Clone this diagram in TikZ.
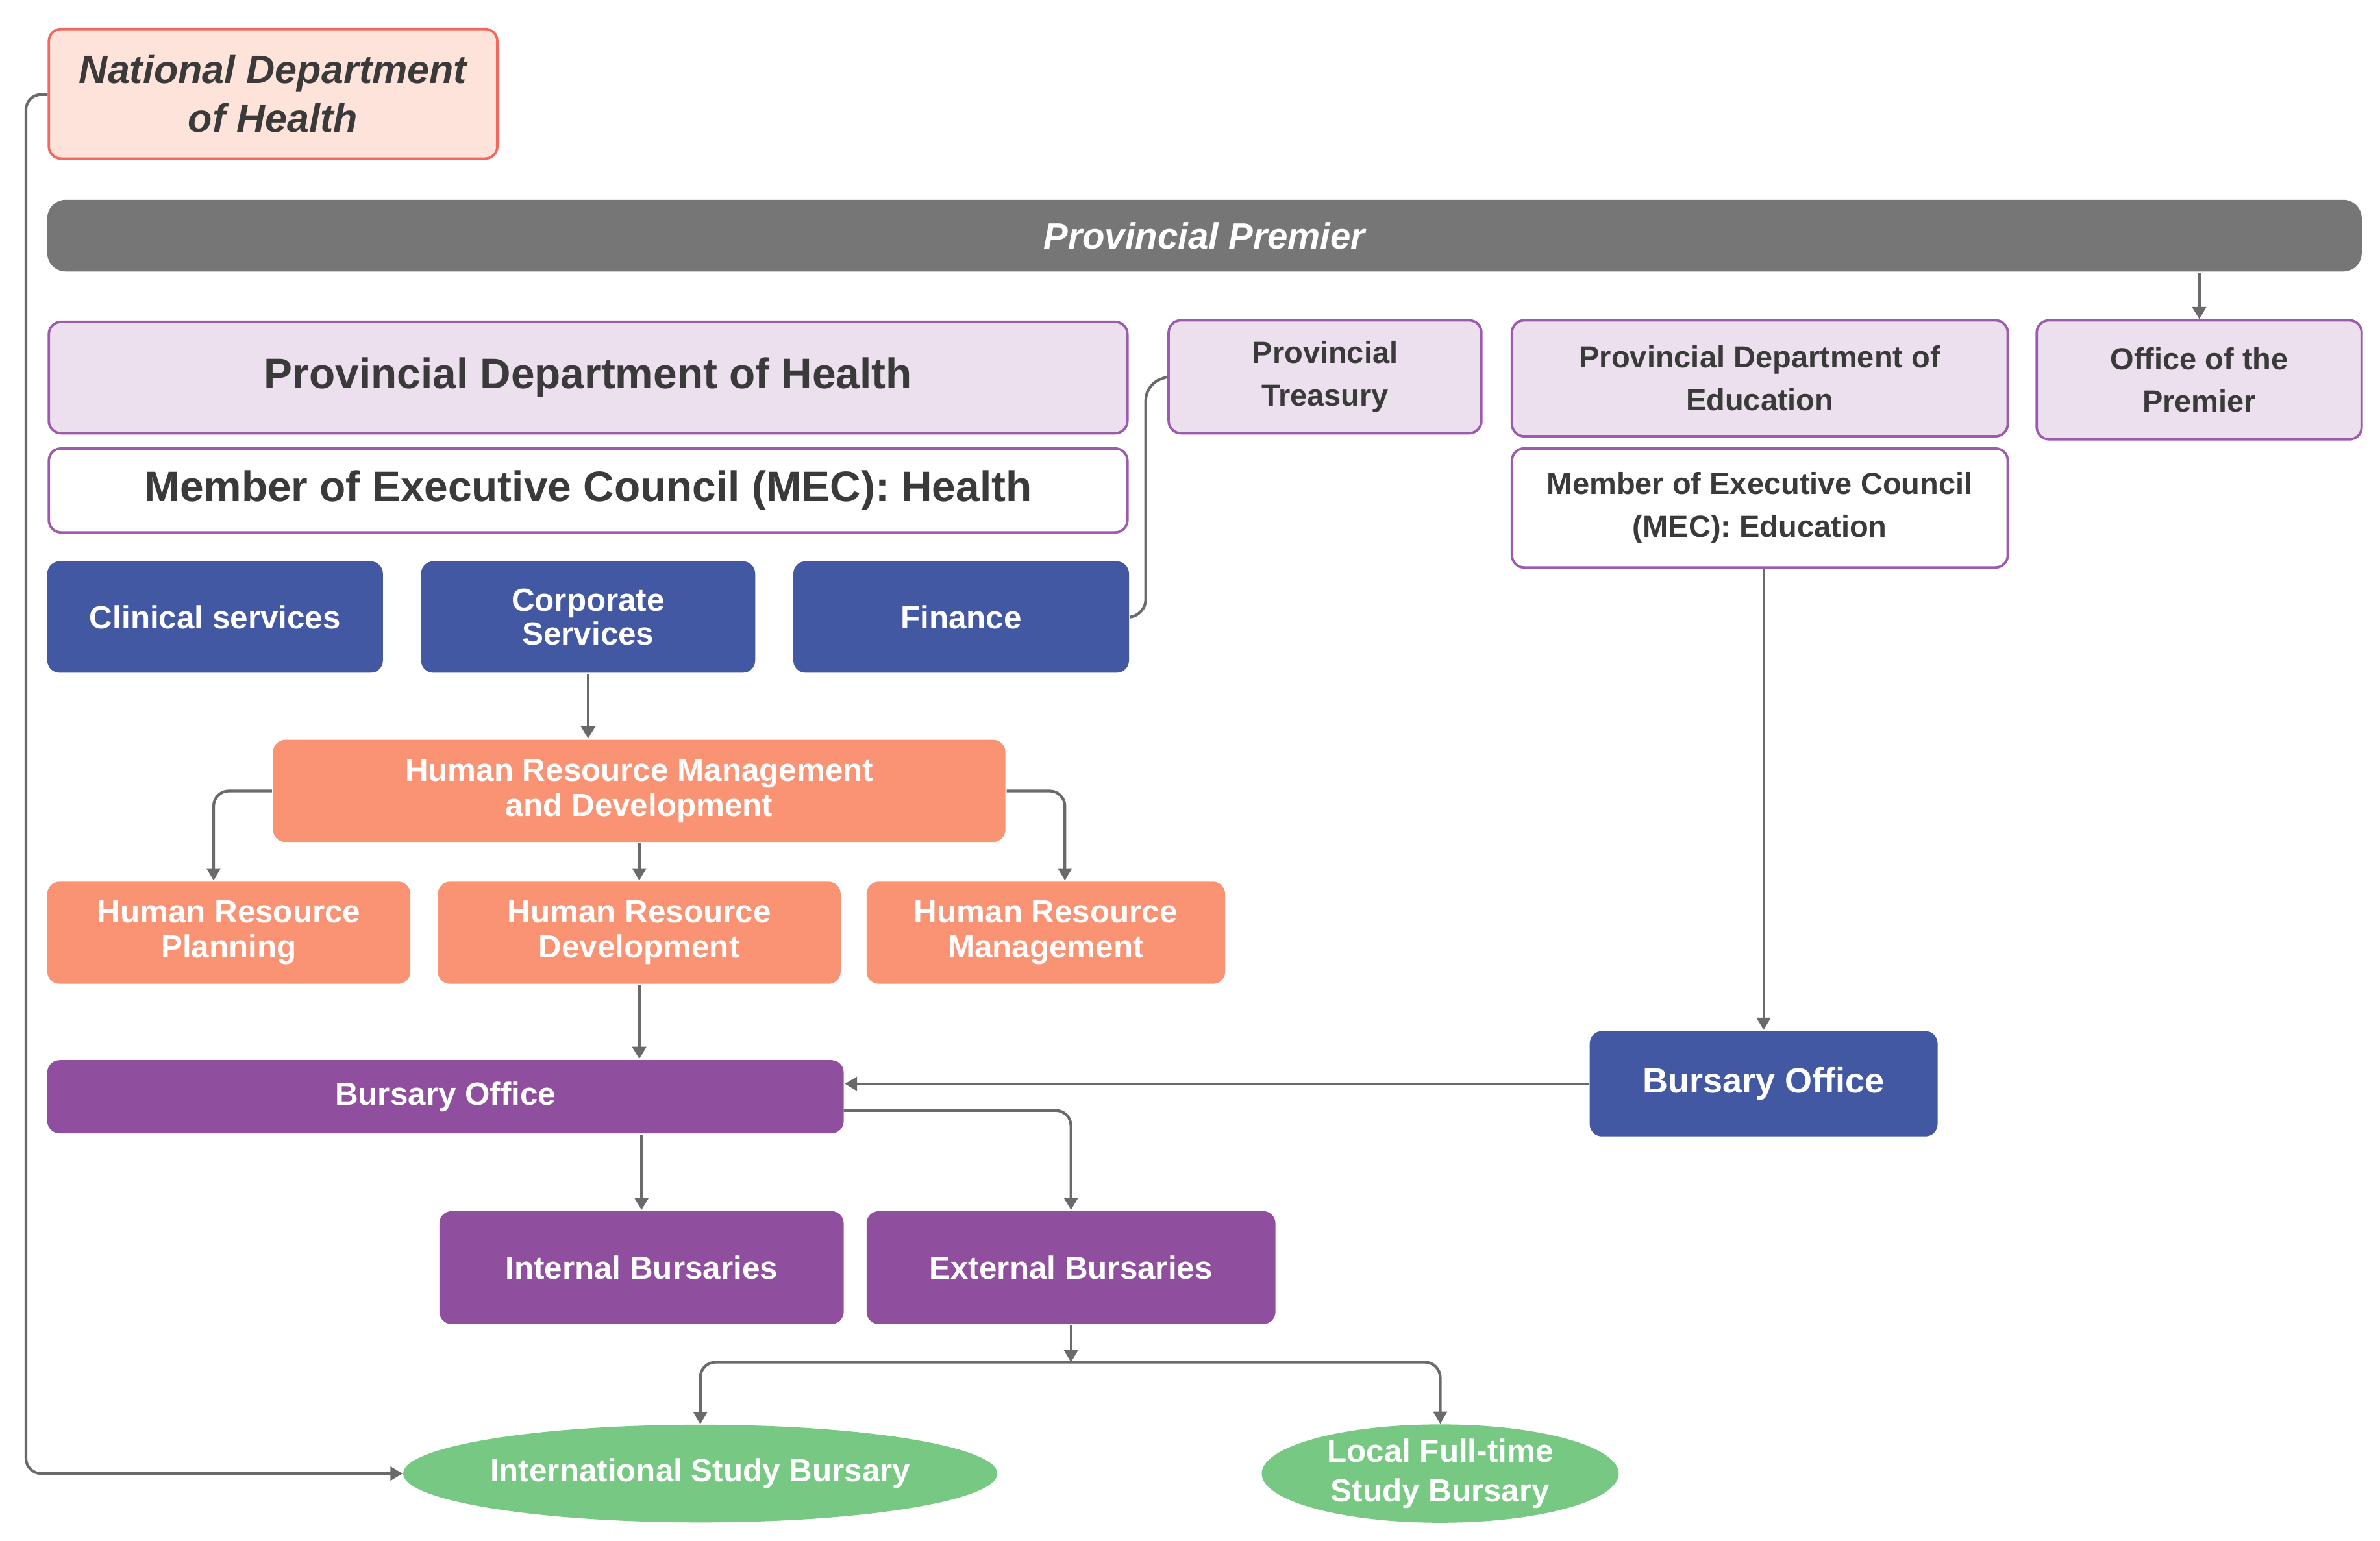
\documentclass[tikz,border=0pt]{standalone}
\usepackage{fontspec}
\setmainfont{Liberation Sans}
\usetikzlibrary{shapes.geometric,arrows.meta}
\definecolor{lav}{HTML}{EDE0EE}
\definecolor{pb}{HTML}{9D5BB0}
\definecolor{blu}{HTML}{4358A3}
\definecolor{sal}{HTML}{FA9374}
\definecolor{pur}{HTML}{904F9E}
\definecolor{grn}{HTML}{77C882}
\definecolor{ln}{HTML}{6A6A6A}
\definecolor{txt}{HTML}{3A3A3A}
\definecolor{peach}{HTML}{FDE3D9}
\definecolor{peachb}{HTML}{F2685E}
\definecolor{gry}{HTML}{767676}
\begin{document}
\begin{tikzpicture}[x=0.5pt,y=-0.5pt,
 box/.style={rounded corners=4pt,line width=0.8pt,align=center,font=\bfseries,inner sep=0pt},
 lav/.style={box,fill=lav,draw=pb,text=txt,font=\bfseries\fontsize{10}{14}\selectfont},
 wht/.style={box,fill=white,draw=pb,text=txt,font=\bfseries\fontsize{10}{14}\selectfont},
 bl/.style={box,fill=blu,draw=none,text=white,font=\bfseries\fontsize{10.5}{11}\selectfont},
 sa/.style={box,fill=sal,draw=none,text=white,font=\bfseries\fontsize{10.5}{11.5}\selectfont},
 pu/.style={box,fill=pur,draw=none,text=white,font=\bfseries\fontsize{10.5}{12}\selectfont},
 el/.style={ellipse,fill=grn,draw=none,text=white,align=center,inner sep=0pt,font=\bfseries\fontsize{10.5}{13}\selectfont},
 con/.style={draw=ln,line width=0.9pt,rounded corners=5pt},
 ar/.style={con,-{Triangle[length=4pt,width=4.5pt]}},
 w/.style={minimum width=#1*0.5pt}, h/.style={minimum height=#1*0.5pt}]
\useasboundingbox (0,0) rectangle (1560,1010);
\node[box,fill=peach,draw=peachb,text=txt,w=294,h=85,font=\bfseries\itshape\fontsize{13}{16}\selectfont] (nat) at (179,61.5) {National Department\\of Health};
\node[box,fill=gry,draw=none,rounded corners=6pt,text=white,w=1517,h=47,font=\bfseries\itshape\fontsize{12}{14}\selectfont] (prem) at (789.5,154.5) {Provincial Premier};
\node[lav,w=707,h=73,font=\bfseries\fontsize{14}{16}\selectfont] (pdh) at (385.5,247.5) {Provincial Department of Health};
\node[wht,w=707,h=55,font=\bfseries\fontsize{14}{16}\selectfont] (mech) at (385.5,321.5) {Member of Executive Council (MEC): Health};
\node[lav,w=205,h=74] (tre) at (868.5,247) {Provincial\\Treasury};
\node[lav,w=325,h=76] (pde) at (1153.5,248) {Provincial Department of\\Education};
\node[lav,w=213,h=78] (off) at (1441.5,249) {Office of the\\Premier};
\node[wht,w=325,h=78] (mece) at (1153.5,333) {Member of Executive Council\\(MEC): Education};
\node[bl,w=220,h=73] (cli) at (141,404.5) {Clinical services};
\node[bl,w=219,h=73] (cor) at (385.5,404.5) {Corporate\\Services};
\node[bl,w=220,h=73] (fin) at (630,404.5) {Finance};
\node[sa,w=480,h=67] (hrmd) at (419,518.5) {Human Resource Management\\and Development};
\node[sa,w=238,h=67] (hrp) at (150,611.5) {Human Resource\\Planning};
\node[sa,w=264,h=67] (hrd) at (419,611.5) {Human Resource\\Development};
\node[sa,w=235,h=67] (hrm) at (685.5,611.5) {Human Resource\\Management};
\node[pu,w=522,h=48] (bl) at (292,719) {Bursary Office};
\node[bl,w=228,h=69,font=\bfseries\fontsize{11.5}{12}\selectfont] (br) at (1156,710.5) {Bursary Office};
\node[pu,w=265,h=74] (int) at (420.5,831) {Internal Bursaries};
\node[pu,w=268,h=74] (ext) at (702,831) {External Bursaries};
\node[el,minimum width=158pt,minimum height=32pt] (isb) at (459,966) {International Study Bursary};
\node[el,minimum width=117pt,minimum height=32pt] (lsb) at (944,966) {Local Full-time\\Study Bursary};
\coordinate (j) at (702,893);
% connectors
\draw[ar] (nat.west|-0,62) -- (17,62) -- (17,966) -- (isb.west);
\draw[ar] (prem.south-|off) -- (off.north);
\draw[con] (tre.west) -- (751,252) -- (751,403) -- (fin.east);
\draw[ar] (cor.south) -- (hrmd.north-|cor);
\draw[ar] (hrmd.west) -- (140,518.5) -- (hrp.north-|140,0);
\draw[ar] (hrmd.south) -- (hrd.north);
\draw[ar] (hrmd.east) -- (698,518.5) -- (hrm.north-|698,0);
\draw[ar] (hrd.south) -- (bl.north-|hrd);
\draw[ar] (mece.south-|br) -- (br.north);
\draw[ar] (br.west) -- (bl.east|-br.west);
\draw[ar] (bl.south-|int) -- (int.north);
\draw[ar] (553,728) -- (702,728) -- (ext.north);
\draw[ar] (ext.south) -- (j);
\draw[ar] (j) -- (459,893) -- (isb.north);
\draw[ar] (j) -- (944,893) -- (lsb.north);
\end{tikzpicture}
\end{document}
